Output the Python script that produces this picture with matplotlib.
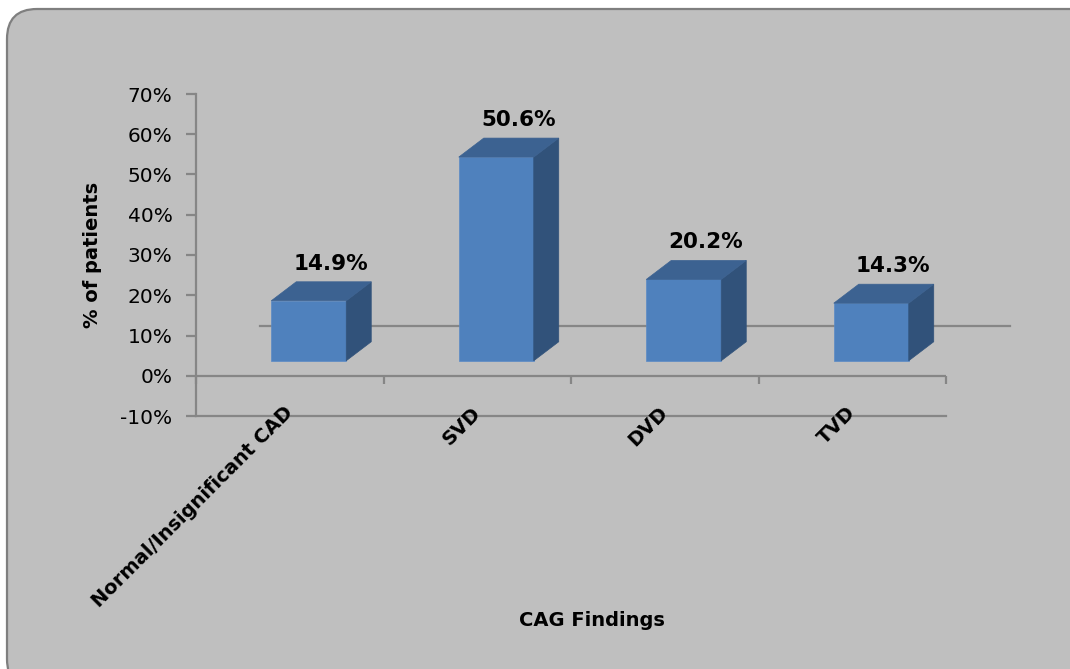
import matplotlib
matplotlib.use("Agg")
import matplotlib.pyplot as plt
import matplotlib.transforms as mtransforms
from matplotlib.patches import FancyBboxPatch, Polygon
import numpy as np

# ---- data ----
categories = ["Normal/Insignificant CAD", "SVD", "DVD", "TVD"]
values = [14.9, 50.6, 20.2, 14.3]
value_labels = ["14.9%", "50.6%", "20.2%", "14.3%"]
yticks = [-10, 0, 10, 20, 30, 40, 50, 60, 70]
ytick_labels = ["-10%", "0%", "10%", "20%", "30%", "40%", "50%", "60%", "70%"]
xlabel = "CAG Findings"
ylabel = "% of patients"

# ---- style ----
W, H, DPI = 1070, 669, 100
plt.rcParams['font.family'] = ['DejaVu Sans']
front_color = "#4F81BD"
top_color = "#3C6291"
side_color = "#31527A"
axis_gray = "#868686"
panel_gray = "#BFBFBF"

fig = plt.figure(figsize=(W / DPI, H / DPI), dpi=DPI)
fig.patch.set_facecolor("white")

# rounded chart-area box (in inches, so corners stay circular)
box = FancyBboxPatch((0.07, -0.2), 11.0, 6.80,
                     boxstyle="round,pad=0,rounding_size=0.30",
                     transform=fig.dpi_scale_trans, facecolor=panel_gray,
                     edgecolor="#7F7F7F", linewidth=1.6, zorder=-5)
fig.patches.append(box)

# axes placement (pixels -> figure fractions)
ax_l, ax_r, ax_t, ax_b = 196, 946, 94, 416
ax = fig.add_axes([ax_l / W, 1 - ax_b / H, (ax_r - ax_l) / W, (ax_b - ax_t) / H])
ax.set_facecolor("none")
ax.set_zorder(1)
n = len(categories)
ax.set_xlim(-0.5, n - 0.5)
ax.set_ylim(-10, 70)

# px per data unit
px_x = (ax_r - ax_l) / n
px_y = (ax_b - ax_t) / 80.0

# spines & ticks
for s in ["top", "right"]:
    ax.spines[s].set_visible(False)
for s in ["left", "bottom"]:
    ax.spines[s].set_color(axis_gray)
    ax.spines[s].set_linewidth(1.6)
ax.set_yticks(yticks)
ax.set_yticklabels(ytick_labels, fontsize=14.5, color="black")
ax.tick_params(axis="y", direction="out", length=7, width=1.6, color=axis_gray, pad=10)
ax.set_xticks([])

# 0% line with category boundary ticks
ax.axhline(0, color=axis_gray, linewidth=1.6, zorder=1)
bounds = np.arange(n + 1) - 0.5
ax.vlines(bounds, -8 / px_y, 0, color=axis_gray, linewidth=1.6, zorder=1, clip_on=False)

# back floor edge line (depth-projected 0% line)
back_shift = mtransforms.ScaledTranslation(64 / DPI, 50 / DPI, fig.dpi_scale_trans)
ax.plot([-0.5, n - 0.5], [0, 0], color=axis_gray, linewidth=1.6,
        transform=ax.transData + back_shift, clip_on=False, zorder=1)

# 3D bars: front face shifted (perspective floor), depth offsets
front_shift = mtransforms.ScaledTranslation(19 / DPI, 15 / DPI, fig.dpi_scale_trans)
front_tr = ax.transData + front_shift
bw = 0.4
ddx = 25 / px_x
ddy = 19 / px_y
x = np.arange(n)
ax.bar(x, values, width=bw, bottom=0, color=front_color, edgecolor="#5A8AC6",
       linewidth=0.5, transform=front_tr, clip_on=False, zorder=3)
for xi, v, lab in zip(x, values, value_labels):
    l, r = xi - bw / 2, xi + bw / 2
    top = Polygon([(l, v), (r, v), (r + ddx, v + ddy), (l + ddx, v + ddy)],
                  closed=True, facecolor=top_color, edgecolor=top_color,
                  linewidth=0.5, transform=front_tr, clip_on=False, zorder=3)
    side = Polygon([(r, 0), (r + ddx, ddy), (r + ddx, v + ddy), (r, v)],
                   closed=True, facecolor=side_color, edgecolor=side_color,
                   linewidth=0.5, transform=front_tr, clip_on=False, zorder=3)
    ax.add_patch(side)
    ax.add_patch(top)
    ax.text(xi + 22 / px_x, v + ddy + 18 / px_y, lab, transform=front_tr,
            ha="center", va="center", fontsize=15.5, fontweight="bold",
            color="black", clip_on=False, zorder=4)

# category labels (rotated)
for xi, c in zip(x, categories):
    ax.text(xi, -8.5, c, rotation=45, rotation_mode="anchor", ha="right",
            va="center", fontsize=14, fontweight="bold", color="black",
            clip_on=False)

# axis titles
fig.text(93 / W, 1 - 255 / H, ylabel, rotation=90, ha="center", va="center",
         fontsize=14, fontweight="bold", color="black")
fig.text(592 / W, 1 - 620 / H, xlabel, ha="center", va="center",
         fontsize=14, fontweight="bold", color="black")

fig.savefig("out.png", dpi=DPI, facecolor=fig.get_facecolor())
